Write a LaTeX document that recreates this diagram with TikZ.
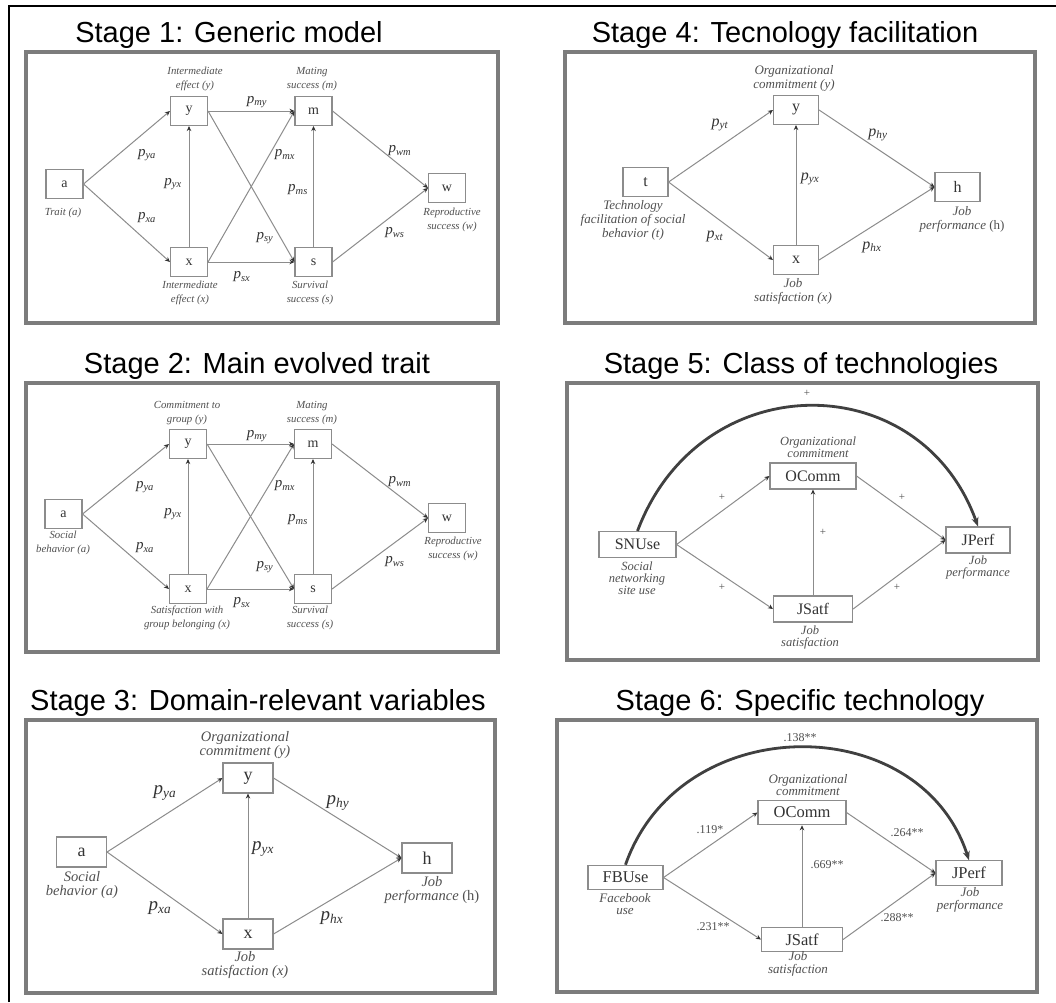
\documentclass[tikz,border=0pt]{standalone}
\usepackage{fontspec}
\setmainfont{Liberation Serif}
\newfontfamily\titlefont{Liberation Sans}
\usetikzlibrary{arrows.meta}

\definecolor{framegray}{HTML}{7C7C7C}
\definecolor{linegray}{HTML}{8C8C8C}
\definecolor{boxgray}{HTML}{8C8C8C}
\definecolor{inkgray}{HTML}{333333}
\definecolor{labgray}{HTML}{505050}
\definecolor{curvegray}{HTML}{404040}

% path coefficient p_{..}
\newcommand{\pcoef}[1]{\textit{p}\textsubscript{\textit{#1}}}

\tikzset{
  panel/.style={draw=framegray, line width=3.5pt},
  title/.style={font=\titlefont\fontsize{29}{32}\selectfont, anchor=base, text=black, inner sep=0pt},
  var/.style={draw=boxgray, line width=1.1pt, fill=white, text=inkgray, inner sep=0pt},
  vA/.style={var, minimum width=37pt, minimum height=29pt, font=\fontsize{14}{14}\selectfont},
  vC/.style={var, minimum width=50pt, minimum height=30pt, font=\fontsize{18}{18}\selectfont},
  vD/.style={var, minimum width=45pt, minimum height=29pt, font=\fontsize{16}{16}\selectfont},
  vE/.style={var, minimum height=26pt, font=\fontsize{16}{16}\selectfont},
  vF/.style={var, minimum height=24.5pt, font=\fontsize{16.5}{16.5}\selectfont},
  lab/.style={text=labgray, align=center, inner sep=0pt},
  labA/.style={lab, font=\itshape\fontsize{10.8}{14}\selectfont},
  labC/.style={lab, font=\itshape\fontsize{14.5}{14.5}\selectfont},
  labD/.style={lab, font=\itshape\fontsize{13}{14}\selectfont},
  labE/.style={lab, font=\itshape\fontsize{12.5}{12}\selectfont},
  labF/.style={lab, font=\itshape\fontsize{13}{12.5}\selectfont},
  coefA/.style={text=inkgray, inner sep=0pt, font=\fontsize{15}{15}\selectfont},
  coefC/.style={text=inkgray, inner sep=0pt, font=\fontsize{19}{19}\selectfont},
  coefD/.style={text=inkgray, inner sep=0pt, font=\fontsize{16}{16}\selectfont},
  coefE/.style={text=labgray, inner sep=0pt, font=\fontsize{11}{11}\selectfont},
  coefF/.style={text=labgray, inner sep=0pt, font=\fontsize{12}{12}\selectfont},
  edge/.style={draw=linegray, line width=1pt,
    -{Stealth[length=5pt, width=4.5pt, color=inkgray]}},
  bigarc/.style={draw=curvegray, line width=2.8pt,
    -{Stealth[length=9pt, width=7pt, color=curvegray]}},
}

\begin{document}
\begin{tikzpicture}[x=1pt, y=-1pt]
\useasboundingbox (0,0) rectangle (1056,1002);
\fill[white] (0,0) rectangle (1056,1002);
% outer frame (top and left edges)
\draw[black, line width=2pt] (9,1002) -- (9,6) -- (1056,6);

% ---------------- Stage 1 ----------------
\node[title] (t1) at (229,42) {Stage 1: Generic model};
\draw[panel] (26,52) rectangle (498,323);
\node[vA] (s1a) at (64.5,184) {a};
\node[vA] (s1y) at (189,111) {y};
\node[vA] (s1m) at (313.5,111) {m};
\node[vA] (s1x) at (189,262) {x};
\node[vA] (s1s) at (313.5,262) {s};
\node[vA] (s1w) at (447,188) {w};
\draw[edge] (s1a.east) -- (s1y.west);
\draw[edge] (s1a.east) -- (s1x.west);
\draw[edge] (s1x.north) -- (s1y.south);
\draw[edge] (s1y.east) -- (s1m.west);
\draw[edge] (s1y.east) -- (s1s.west);
\draw[edge] (s1x.east) -- (s1m.west);
\draw[edge] (s1x.east) -- (s1s.west);
\draw[edge] (s1s.north) -- (s1m.south);
\draw[edge] (s1m.east) -- (s1w.west);
\draw[edge] (s1s.east) -- (s1w.west);
\node[labA] (l1y) at (195,79) {Intermediate\\effect (y)};
\node[labA] (l1m) at (312,79) {Mating\\success (m)};
\node[labA] (l1a) at (63,213) {Trait (a)};
\node[labA] (l1x) at (190,293) {Intermediate\\effect (x)};
\node[labA] (l1s) at (310,293) {Survival\\success (s)};
\node[labA] (l1w) at (452,220) {Reproductive\\success (w)};
\node[coefA] (c1ya) at (147,155) {\pcoef{ya}};
\node[coefA] (c1xa) at (147,218) {\pcoef{xa}};
\node[coefA] (c1yx) at (173,184) {\pcoef{yx}};
\node[coefA] (c1my) at (257,102) {\pcoef{my}};
\node[coefA] (c1mx) at (285,155) {\pcoef{mx}};
\node[coefA] (c1ms) at (298,190) {\pcoef{ms}};
\node[coefA] (c1sy) at (265,238) {\pcoef{sy}};
\node[coefA] (c1sx) at (242,277) {\pcoef{sx}};
\node[coefA] (c1wm) at (400,151) {\pcoef{wm}};
\node[coefA] (c1ws) at (395,233) {\pcoef{ws}};

% ---------------- Stage 2 ----------------
\node[title] (t2) at (257,373) {Stage 2: Main evolved trait};
\draw[panel] (26,383) rectangle (498,652);
\node[vA] (s2a) at (63.5,514) {a};
\node[vA] (s2y) at (188,444) {y};
\node[vA] (s2m) at (313,444) {m};
\node[vA] (s2x) at (188,589) {x};
\node[vA] (s2s) at (313,589) {s};
\node[vA] (s2w) at (447,518) {w};
\draw[edge] (s2a.east) -- (s2y.west);
\draw[edge] (s2a.east) -- (s2x.west);
\draw[edge] (s2x.north) -- (s2y.south);
\draw[edge] (s2y.east) -- (s2m.west);
\draw[edge] (s2y.east) -- (s2s.west);
\draw[edge] (s2x.east) -- (s2m.west);
\draw[edge] (s2x.east) -- (s2s.west);
\draw[edge] (s2s.north) -- (s2m.south);
\draw[edge] (s2m.east) -- (s2w.west);
\draw[edge] (s2s.east) -- (s2w.west);
\node[labA] (l2y) at (187,413) {Commitment to\\group (y)};
\node[labA] (l2m) at (312,413) {Mating\\success (m)};
\node[labA] (l2a) at (63,543) {Social\\behavior (a)};
\node[labA] (l2x) at (187,618) {Satisfaction with\\group belonging (x)};
\node[labA] (l2s) at (310,618) {Survival\\success (s)};
\node[labA] (l2w) at (453,549) {Reproductive\\success (w)};
\node[coefA] (c2ya) at (145,487) {\pcoef{ya}};
\node[coefA] (c2xa) at (145,548) {\pcoef{xa}};
\node[coefA] (c2yx) at (173,514) {\pcoef{yx}};
\node[coefA] (c2my) at (257,436) {\pcoef{my}};
\node[coefA] (c2mx) at (285,486) {\pcoef{mx}};
\node[coefA] (c2ms) at (298,520) {\pcoef{ms}};
\node[coefA] (c2sy) at (265,567) {\pcoef{sy}};
\node[coefA] (c2sx) at (242,603) {\pcoef{sx}};
\node[coefA] (c2wm) at (400,482) {\pcoef{wm}};
\node[coefA] (c2ws) at (395,562) {\pcoef{ws}};

% ---------------- Stage 3 ----------------
\node[title] (t3) at (258,710) {Stage 3: Domain-relevant variables};
\draw[panel] (26,720) rectangle (495,993);
\node[vC] (s3a) at (81.5,852) {a};
\node[vC] (s3y) at (248,778) {y};
\node[vC] (s3x) at (248,934) {x};
\node[vC] (s3h) at (427,858) {h};
\draw[edge] (s3a.east) -- (s3y.west);
\draw[edge] (s3a.east) -- (s3x.west);
\draw[edge] (s3x.north) -- (s3y.south);
\draw[edge] (s3y.east) -- (s3h.west);
\draw[edge] (s3x.east) -- (s3h.west);
\node[labC] (l3y) at (245,745) {Organizational\\commitment (y)};
\node[labC] (l3a) at (82,885) {Social\\behavior (a)};
\node[labC] (l3x) at (245,965) {Job\\satisfaction (x)};
\node[labC] (l3h) at (432,890) {Job\\performance \textup{(h)}};
\node[coefC] (c3ya) at (165,793) {\pcoef{ya}};
\node[coefC] (c3xa) at (160,908) {\pcoef{xa}};
\node[coefC] (c3yx) at (263,849) {\pcoef{yx}};
\node[coefC] (c3hy) at (338,803) {\pcoef{hy}};
\node[coefC] (c3hx) at (332,918) {\pcoef{hx}};

% ---------------- Stage 4 ----------------
\node[title] (t4) at (785,42) {Stage 4: Tecnology facilitation};
\draw[panel] (565,52) rectangle (1035,323);
\node[vD] (s4t) at (645.5,182) {t};
\node[vD] (s4y) at (796,110) {y};
\node[vD] (s4x) at (796,260) {x};
\node[vD] (s4h) at (957.5,187) {h};
\draw[edge] (s4t.east) -- (s4y.west);
\draw[edge] (s4t.east) -- (s4x.west);
\draw[edge] (s4x.north) -- (s4y.south);
\draw[edge] (s4y.east) -- (s4h.west);
\draw[edge] (s4x.east) -- (s4h.west);
\node[labD] (l4y) at (794,78) {Organizational\\commitment (y)};
\node[labD] (l4t) at (633,220) {Technology\\facilitation of social\\behavior (t)};
\node[labD] (l4x) at (793,291) {Job\\satisfaction (x)};
\node[labD] (l4h) at (962,219) {Job\\performance \textup{(h)}};
\node[coefD] (c4yt) at (720,125) {\pcoef{yt}};
\node[coefD] (c4xt) at (715,236) {\pcoef{xt}};
\node[coefD] (c4yx) at (810,179) {\pcoef{yx}};
\node[coefD] (c4hy) at (878,135) {\pcoef{hy}};
\node[coefD] (c4hx) at (872,247) {\pcoef{hx}};

% ---------------- Stage 5 ----------------
\node[title] (t5) at (801,373) {Stage 5: Class of technologies};
\draw[panel] (567,383) rectangle (1038,660);
\node[vE, minimum width=77pt] (s5s) at (637.5,544.5) {SNUse};
\node[vE, minimum width=86pt] (s5o) at (813,476) {OComm};
\node[vE, minimum width=79pt] (s5j) at (813,609) {JSatf};
\node[vE, minimum width=64pt] (s5p) at (978,540) {JPerf};
\draw[edge] (s5s.east) -- (s5o.west);
\draw[edge] (s5s.east) -- (s5j.west);
\draw[edge] (s5j.north) -- (s5o.south);
\draw[edge] (s5o.east) -- (s5p.west);
\draw[edge] (s5j.east) -- (s5p.west);
\draw[bigarc] (s5s.north) .. controls (700,365) and (920,365) .. (s5p.north);
\node[labE] (l5o) at (818,447) {Organizational\\commitment};
\node[labE] (l5s) at (637,578) {Social\\networking\\site use};
\node[labE] (l5j) at (810,637) {Job\\satisfaction};
\node[labE] (l5p) at (978,567) {Job\\performance};
\node[coefE] (c5so) at (722,497) {+};
\node[coefE] (c5sj) at (722,587) {+};
\node[coefE] (c5jo) at (823,532) {+};
\node[coefE] (c5op) at (902,497) {+};
\node[coefE] (c5jp) at (897,587) {+};
\node[coefE] (c5sp) at (807,393) {+};

% ---------------- Stage 6 ----------------
\node[title] (t6) at (800,710) {Stage 6: Specific technology};
\draw[panel] (557,720) rectangle (1037,992);
\node[vF, minimum width=75pt] (s6f) at (625.5,877.5) {FBUse};
\node[vF, minimum width=88pt] (s6o) at (802,812.5) {OComm};
\node[vF, minimum width=81pt] (s6j) at (802,939.5) {JSatf};
\node[vF, minimum width=66pt] (s6p) at (969,873) {JPerf};
\draw[edge] (s6f.east) -- (s6o.west);
\draw[edge] (s6f.east) -- (s6j.west);
\draw[edge] (s6j.north) -- (s6o.south);
\draw[edge] (s6o.east) -- (s6p.west);
\draw[edge] (s6j.east) -- (s6p.west);
\draw[bigarc] (s6f.north) .. controls (680,709) and (920,709) .. (s6p.north);
\node[labF] (l6o) at (808,785) {Organizational\\commitment};
\node[labF] (l6f) at (625,904) {Facebook\\use};
\node[labF] (l6j) at (798,964) {Job\\satisfaction};
\node[labF] (l6p) at (970,900) {Job\\performance};
\node[coefF] (c6fo) at (710,830) {.119*};
\node[coefF] (c6fj) at (713,927) {.231**};
\node[coefF] (c6jo) at (827,865) {.669**};
\node[coefF] (c6op) at (907,833) {.264**};
\node[coefF] (c6jp) at (897,918) {.288**};
\node[coefF] (c6fp) at (800,738) {.138**};
\end{tikzpicture}
\end{document}
